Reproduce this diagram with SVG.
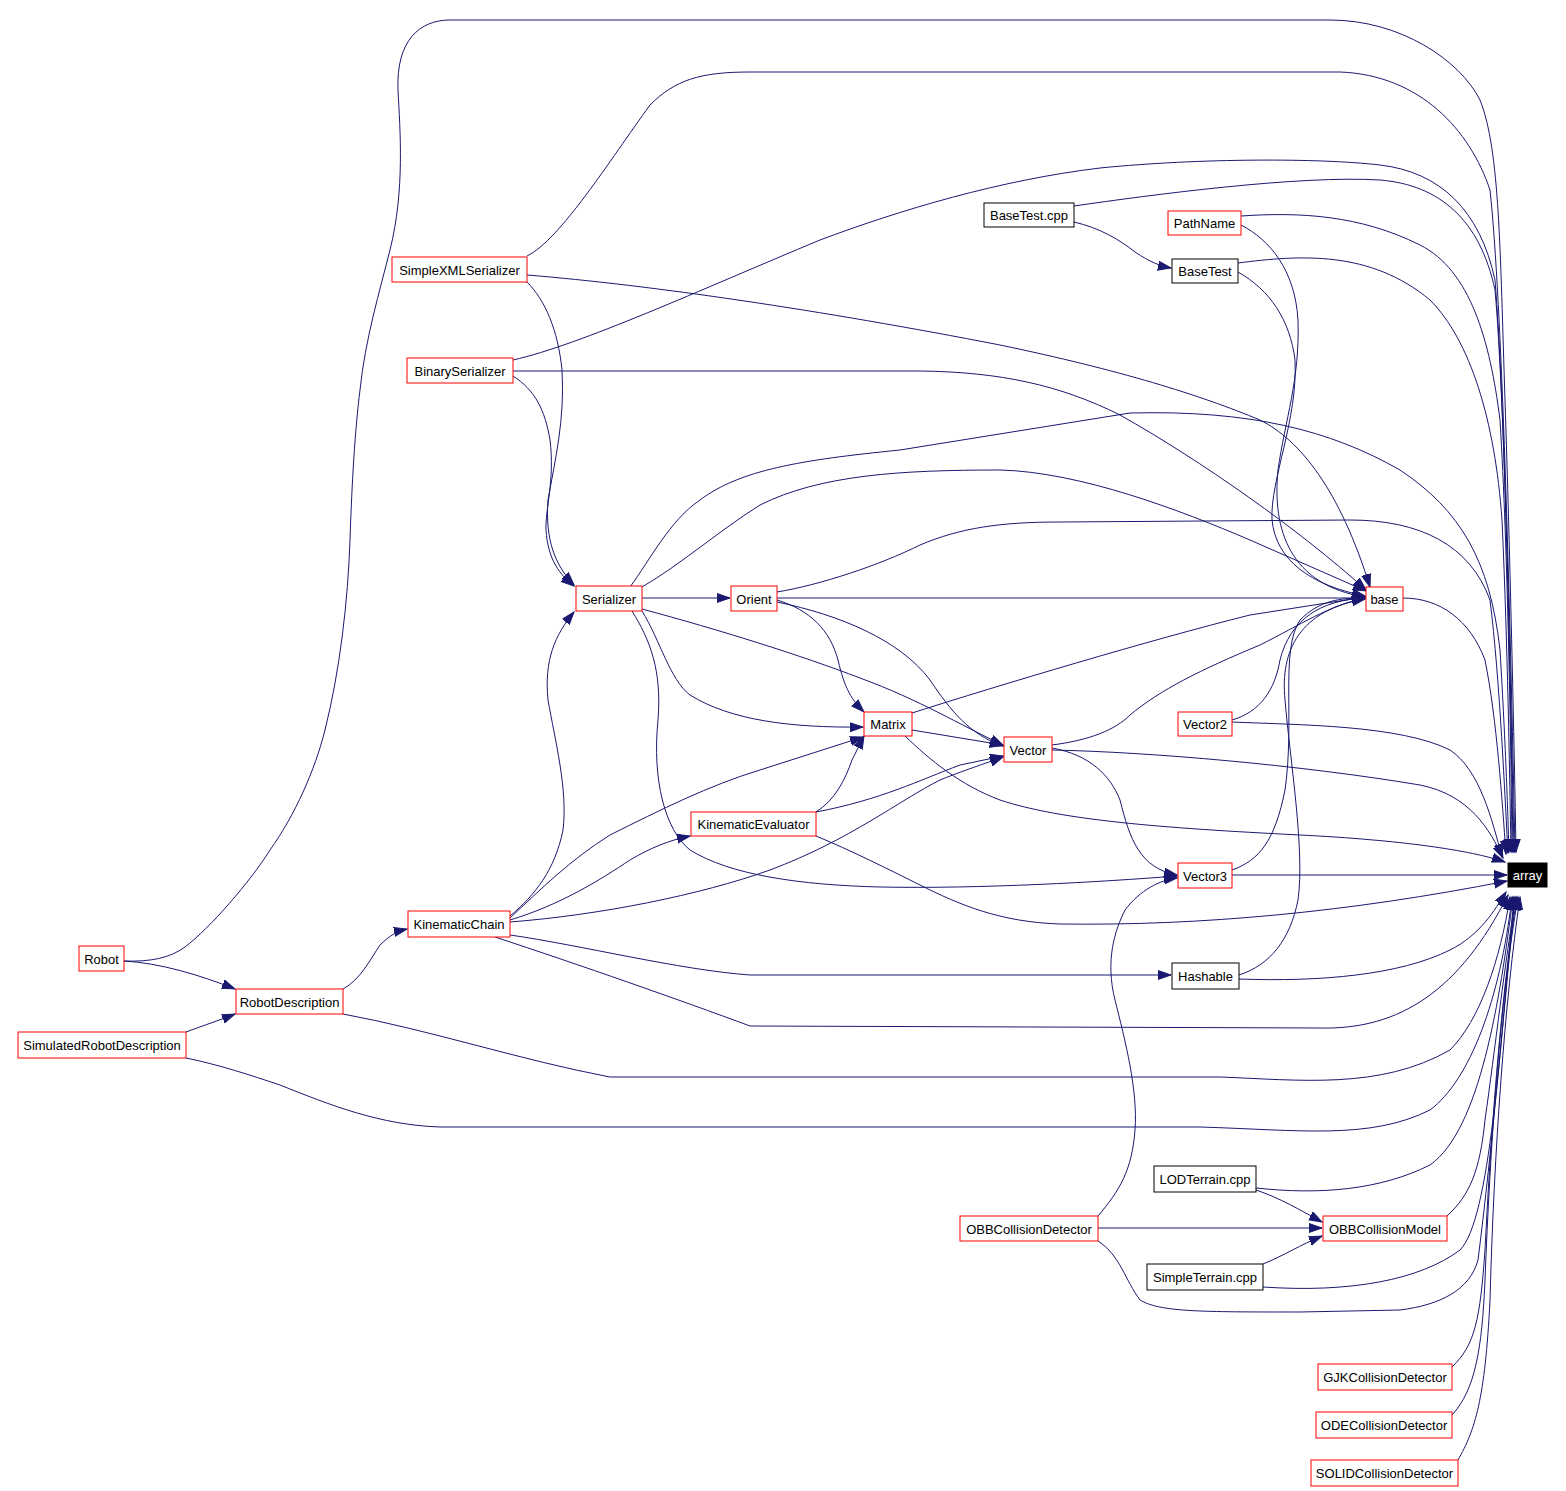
<svg xmlns="http://www.w3.org/2000/svg" width="1566" height="1491" viewBox="0 0 1566 1491">
<style>
.n rect{fill:#fff;stroke:#ff0000;stroke-width:1}
.n.b rect{stroke:#000}
.n text{font-family:"Liberation Sans",Arial,sans-serif;font-size:13px;text-anchor:middle;fill:#000}
.n.k rect{fill:#000;stroke:#000}
.n.k text{fill:#fff}
#edges path{fill:none;stroke:#191970;stroke-width:1;marker-end:url(#ah)}
</style>
<defs>
<marker id="ah" markerWidth="15" markerHeight="11" refX="13" refY="5" orient="auto" markerUnits="userSpaceOnUse"><path d="M0,0.5 L13,5 L0,9.5 z" fill="#191970" stroke="#191970" stroke-width="1"/></marker>
</defs>
<rect width="1566" height="1491" fill="#fff"/>
<g id="edges">
<path d="M124,961 C150,962 170,958 185,947 C210,928 250,882 270,850 C295,815 315,770 325,730 C340,670 348,600 350,540 C352,480 355,430 360,390 C365,340 380,290 390,250 C405,190 400,130 398,90 C396,40 420,20 450,20 L1330,20 C1400,20 1460,60 1480,100 C1500,150 1500,250 1505,400 C1510,550 1515,780 1516,852"/>
<path d="M527,256 C560,240 610,160 650,105 C675,80 700,72 750,72 L1340,72 C1420,75 1470,130 1490,190 C1502,300 1510,600 1515,852"/>
<path d="M513,360 C580,345 700,290 820,240 C900,210 1000,180 1100,168 C1200,158 1320,158 1380,165 C1440,172 1480,210 1495,280 C1505,400 1511,700 1514,852"/>
<path d="M1074,206 C1150,195 1300,175 1380,180 C1440,185 1480,220 1495,290 C1505,400 1511,700 1513,852"/>
<path d="M1241,216 C1300,212 1360,215 1420,245 C1470,270 1490,340 1500,420 C1508,550 1511,750 1512,852"/>
<path d="M1238,263 C1300,255 1370,250 1430,300 C1470,340 1495,420 1502,520 C1508,650 1510,800 1511,852"/>
<path d="M630,587 C650,560 670,520 700,500 C740,470 800,460 900,450 L1130,413 C1250,410 1330,430 1400,470 C1460,510 1490,560 1500,650 C1506,750 1508,820 1509,852"/>
<path d="M777,592 C820,585 880,565 920,545 C960,528 1000,522 1060,522 L1350,520 C1420,520 1470,545 1490,600 C1500,680 1505,800 1508,853"/>
<path d="M1403,598 C1440,598 1470,620 1485,660 C1497,720 1502,800 1506,854"/>
<path d="M1052,750 C1150,752 1300,765 1420,785 C1470,795 1490,830 1503,858"/>
<path d="M905,736 C930,760 960,785 1000,800 C1060,820 1160,828 1300,835 C1400,840 1470,850 1505,862"/>
<path d="M1232,722 C1300,725 1400,725 1450,750 C1480,770 1492,820 1502,857"/>
<path d="M1232,875 L1507,875"/>
<path d="M816,836 C850,850 890,870 920,885 C960,905 1000,922 1060,924 C1200,926 1350,912 1507,881"/>
<path d="M1239,979 C1320,982 1400,975 1450,950 C1480,935 1495,910 1506,892"/>
<path d="M495,937 C580,965 680,1000 750,1026 L1320,1028 C1400,1030 1460,990 1508,895"/>
<path d="M343,1014 C430,1030 520,1060 610,1077 L1220,1077 C1300,1080 1380,1090 1450,1050 C1480,1020 1500,960 1510,897"/>
<path d="M186,1058 C220,1065 250,1075 280,1085 C330,1105 380,1125 440,1127 L1200,1127 C1300,1130 1370,1140 1430,1110 C1470,1080 1500,1000 1512,897"/>
<path d="M1256,1188 C1320,1195 1380,1190 1430,1165 C1480,1130 1500,1000 1513,897"/>
<path d="M1263,1287 C1350,1293 1420,1280 1460,1250 C1490,1220 1500,1050 1514,897"/>
<path d="M1098,1241 C1120,1255 1125,1280 1140,1300 C1160,1312 1200,1312 1300,1312 L1400,1310 C1440,1305 1470,1290 1478,1260 C1492,1150 1505,1000 1515,897"/>
<path d="M1447,1216 C1470,1195 1480,1170 1485,1120 C1495,1050 1505,960 1516,897"/>
<path d="M1452,1367 C1475,1345 1480,1320 1485,1250 C1490,1150 1500,1000 1517,897"/>
<path d="M1452,1415 C1475,1390 1482,1350 1485,1280 C1490,1150 1500,1000 1518,897"/>
<path d="M1458,1460 C1475,1430 1485,1400 1490,1300 C1494,1150 1505,1000 1520,897"/>
<path d="M777,598 L1365,598"/>
<path d="M912,713 C1000,685 1150,640 1250,615 L1365,597"/>
<path d="M1052,745 C1090,740 1115,730 1130,715 C1160,690 1200,670 1260,645 C1300,625 1330,605 1365,598"/>
<path d="M527,275 C650,285 820,310 1000,345 C1120,370 1200,395 1260,420 C1300,440 1340,490 1370,587"/>
<path d="M513,371 L920,371 C1000,372 1060,385 1120,415 C1200,460 1300,530 1366,590"/>
<path d="M642,587 C680,565 720,530 760,505 C820,475 900,470 1000,470 C1080,472 1180,510 1250,540 L1366,591"/>
<path d="M1241,225 C1270,240 1295,270 1298,320 C1300,380 1285,420 1278,470 C1272,530 1290,585 1365,597"/>
<path d="M1238,272 C1270,290 1290,320 1295,360 C1298,420 1270,480 1272,520 C1276,560 1310,585 1365,596"/>
<path d="M1232,720 C1260,712 1275,690 1280,660 C1290,620 1320,600 1365,598"/>
<path d="M1232,870 C1260,860 1275,840 1285,790 C1295,720 1280,650 1300,620 C1320,600 1340,598 1365,598"/>
<path d="M1239,975 C1270,965 1290,940 1298,900 C1305,850 1290,760 1285,700 C1280,650 1300,610 1365,599"/>
<path d="M527,282 C545,300 558,330 562,370 C565,420 555,460 548,500 C545,540 555,565 574,585"/>
<path d="M513,376 C535,390 545,410 550,440 C555,480 545,510 546,530 C548,560 560,575 574,586"/>
<path d="M510,916 C535,895 555,870 563,830 C568,790 555,740 548,700 C544,660 555,635 574,612"/>
<path d="M642,598 L730,598"/>
<path d="M642,611 C660,640 670,680 690,695 C730,720 790,728 863,727"/>
<path d="M642,609 C720,630 800,655 860,678 C920,700 960,725 1003,745"/>
<path d="M632,611 C650,640 662,670 658,720 C652,780 665,830 690,850 C730,875 800,885 880,887 C980,889 1100,882 1177,876"/>
<path d="M777,600 C810,610 830,630 838,660 C845,690 852,700 864,712"/>
<path d="M777,602 C840,615 900,640 930,680 C950,710 970,735 1003,746"/>
<path d="M912,730 L1003,745"/>
<path d="M1052,748 C1090,755 1110,775 1120,800 C1130,840 1140,868 1177,875"/>
<path d="M816,812 C835,800 845,780 852,760 L864,736"/>
<path d="M816,812 C880,800 920,780 960,765 L1003,756"/>
<path d="M510,918 C540,890 570,860 610,835 C660,810 710,785 760,770 L863,737"/>
<path d="M510,920 C560,905 600,880 630,860 C650,848 670,840 690,836"/>
<path d="M510,922 C600,915 700,895 770,870 C850,840 900,800 940,780 C970,768 990,762 1003,757"/>
<path d="M510,935 C580,945 680,970 750,975 L1171,975"/>
<path d="M343,989 C360,980 370,960 380,945 C390,935 398,931 407,929"/>
<path d="M124,961 C160,963 200,975 235,989"/>
<path d="M186,1032 C205,1025 220,1020 235,1014"/>
<path d="M1074,222 C1100,228 1120,240 1135,252 C1150,262 1160,266 1171,268"/>
<path d="M1098,1216 C1120,1190 1132,1170 1135,1130 C1138,1090 1125,1040 1115,1000 C1105,960 1115,930 1125,910 C1140,890 1160,880 1177,878"/>
<path d="M1098,1228 L1322,1228"/>
<path d="M1256,1190 C1280,1198 1300,1210 1322,1222"/>
<path d="M1263,1264 C1285,1255 1300,1245 1322,1236"/>
</g>
<g id="n-array" class="n k"><rect x="1508" y="863" width="39" height="24"/><text x="1527.5" y="880">array</text></g>
<g id="n-BaseTestcpp" class="n b"><rect x="984" y="203" width="90" height="24"/><text x="1029" y="220">BaseTest.cpp</text></g>
<g id="n-PathName" class="n"><rect x="1168" y="211" width="73" height="24"/><text x="1204.5" y="228">PathName</text></g>
<g id="n-BaseTest" class="n b"><rect x="1172" y="259" width="66" height="24"/><text x="1205" y="276">BaseTest</text></g>
<g id="n-SimpleXMLSerializer" class="n"><rect x="392" y="257" width="135" height="25"/><text x="459.5" y="274.5">SimpleXMLSerializer</text></g>
<g id="n-BinarySerializer" class="n"><rect x="407" y="358" width="106" height="25"/><text x="460" y="375.5">BinarySerializer</text></g>
<g id="n-Serializer" class="n"><rect x="576" y="586" width="66" height="25"/><text x="609" y="603.5">Serializer</text></g>
<g id="n-Orient" class="n"><rect x="731" y="586" width="46" height="25"/><text x="754" y="603.5">Orient</text></g>
<g id="n-base" class="n"><rect x="1366" y="587" width="37" height="24"/><text x="1384.5" y="604">base</text></g>
<g id="n-Matrix" class="n"><rect x="864" y="712" width="48" height="24"/><text x="888" y="729">Matrix</text></g>
<g id="n-Vector" class="n"><rect x="1004" y="737" width="48" height="25"/><text x="1028" y="754.5">Vector</text></g>
<g id="n-Vector2" class="n"><rect x="1178" y="712" width="54" height="24"/><text x="1205" y="729">Vector2</text></g>
<g id="n-Vector3" class="n"><rect x="1178" y="863" width="54" height="25"/><text x="1205" y="880.5">Vector3</text></g>
<g id="n-KinematicEvaluator" class="n"><rect x="691" y="812" width="125" height="24"/><text x="753.5" y="829">KinematicEvaluator</text></g>
<g id="n-KinematicChain" class="n"><rect x="408" y="911" width="102" height="26"/><text x="459" y="929">KinematicChain</text></g>
<g id="n-Hashable" class="n b"><rect x="1172" y="963" width="67" height="26"/><text x="1205.5" y="981">Hashable</text></g>
<g id="n-Robot" class="n"><rect x="79" y="946" width="45" height="25"/><text x="101.5" y="963.5">Robot</text></g>
<g id="n-RobotDescription" class="n"><rect x="236" y="989" width="107" height="25"/><text x="289.5" y="1006.5">RobotDescription</text></g>
<g id="n-SimulatedRobotDescription" class="n"><rect x="18" y="1032" width="168" height="26"/><text x="102" y="1050">SimulatedRobotDescription</text></g>
<g id="n-LODTerraincpp" class="n b"><rect x="1154" y="1166" width="102" height="26"/><text x="1205" y="1184">LODTerrain.cpp</text></g>
<g id="n-OBBCollisionDetector" class="n"><rect x="960" y="1216" width="138" height="25"/><text x="1029" y="1233.5">OBBCollisionDetector</text></g>
<g id="n-OBBCollisionModel" class="n"><rect x="1323" y="1216" width="124" height="25"/><text x="1385" y="1233.5">OBBCollisionModel</text></g>
<g id="n-SimpleTerraincpp" class="n b"><rect x="1147" y="1264" width="116" height="26"/><text x="1205" y="1282">SimpleTerrain.cpp</text></g>
<g id="n-GJKCollisionDetector" class="n"><rect x="1318" y="1364" width="134" height="26"/><text x="1385" y="1382">GJKCollisionDetector</text></g>
<g id="n-ODECollisionDetector" class="n"><rect x="1316" y="1412" width="136" height="26"/><text x="1384" y="1430">ODECollisionDetector</text></g>
<g id="n-SOLIDCollisionDetector" class="n"><rect x="1311" y="1460" width="147" height="26"/><text x="1384.5" y="1478">SOLIDCollisionDetector</text></g>
</svg>
